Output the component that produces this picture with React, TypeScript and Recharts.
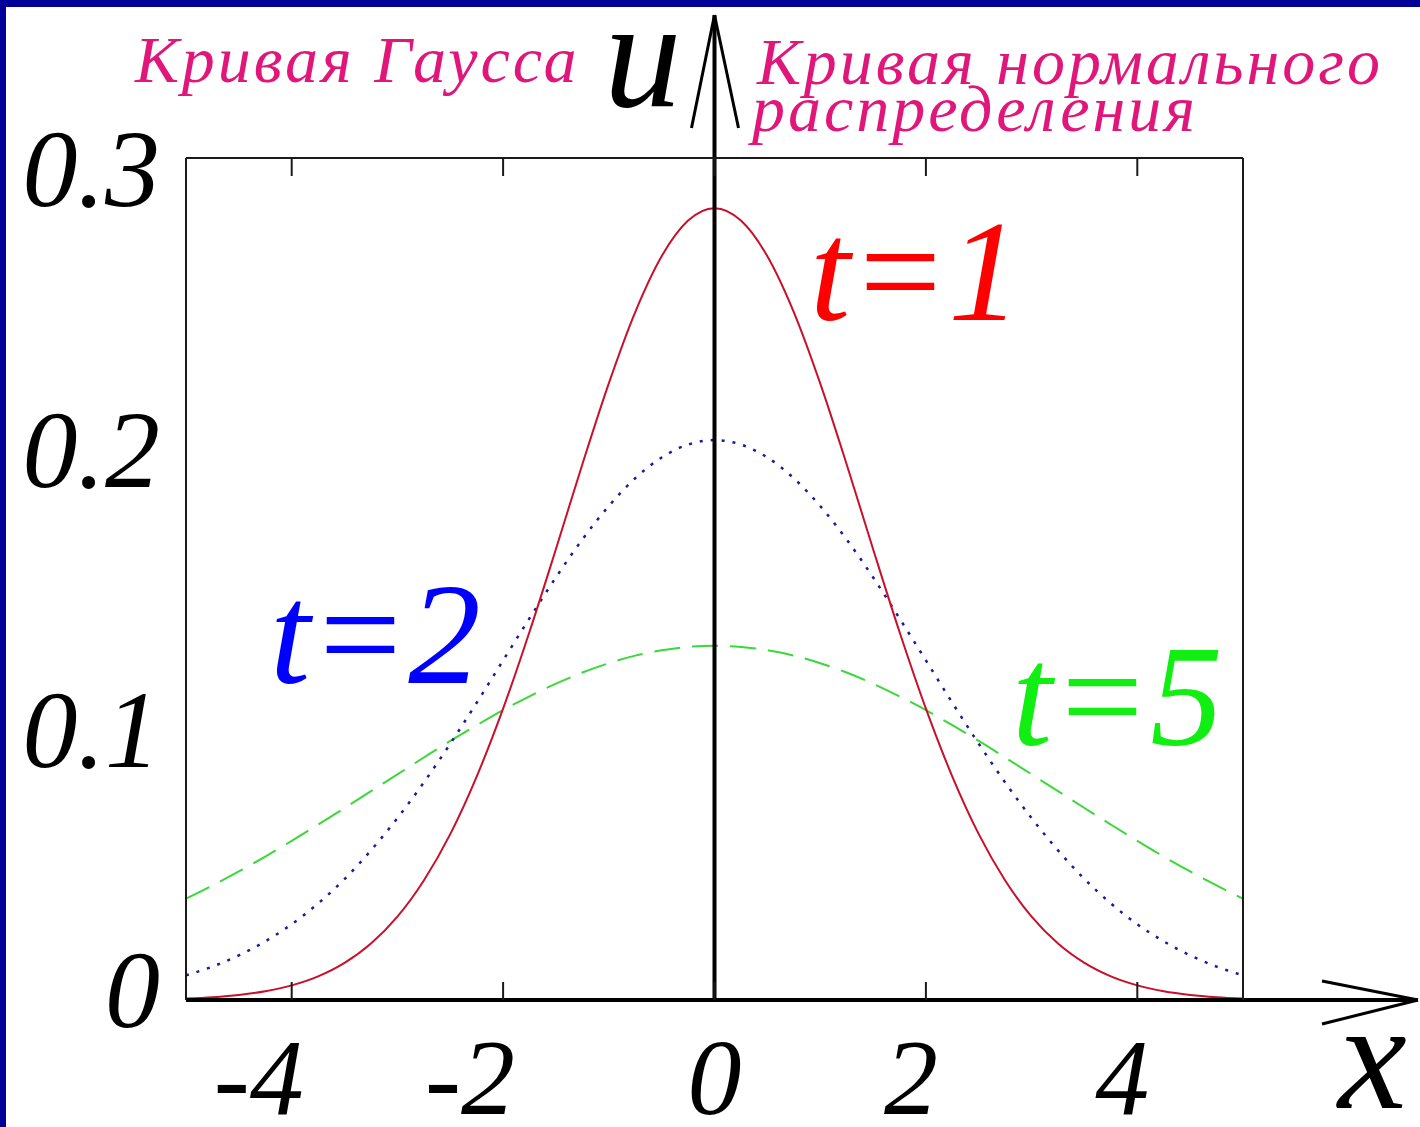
import { LineChart, Line, XAxis, YAxis, ReferenceLine } from 'recharts'

// sample points along x
const xValues = [
  -5, -4.75, -4.5, -4.25, -4, -3.75, -3.5, -3.25, -3, -2.75, -2.5, -2.25, -2, -1.75, -1.5, -1.25, -1, -0.75, -0.5, -0.25,
  0, 0.25, 0.5, 0.75, 1, 1.25, 1.5, 1.75, 2, 2.25, 2.5, 2.75, 3, 3.25, 3.5, 3.75, 4, 4.25, 4.5, 4.75, 5,
]

// u(x) at t = 1
const heatT1 = [
  0.0005, 0.001, 0.0018, 0.0031, 0.0052, 0.0084, 0.0132, 0.0201, 0.0297, 0.0426, 0.0591, 0.0796, 0.1038, 0.1312, 0.1607,
  0.1909, 0.2197, 0.2451, 0.265, 0.2777, 0.2821, 0.2777, 0.265, 0.2451, 0.2197, 0.1909, 0.1607, 0.1312, 0.1038, 0.0796,
  0.0591, 0.0426, 0.0297, 0.0201, 0.0132, 0.0084, 0.0052, 0.0031, 0.0018, 0.001, 0.0005,
]

// u(x) at t = 2
const heatT2 = [
  0.0088, 0.0119, 0.0159, 0.0209, 0.027, 0.0344, 0.0431, 0.0533, 0.0648, 0.0775, 0.0913, 0.1059, 0.121, 0.136, 0.1506,
  0.1641, 0.176, 0.1859, 0.1933, 0.1979, 0.1995, 0.1979, 0.1933, 0.1859, 0.176, 0.1641, 0.1506, 0.136, 0.121, 0.1059,
  0.0913, 0.0775, 0.0648, 0.0533, 0.0431, 0.0344, 0.027, 0.0209, 0.0159, 0.0119, 0.0088,
]

// u(x) at t = 5
const heatT5 = [
  0.0361, 0.0408, 0.0458, 0.0511, 0.0567, 0.0625, 0.0684, 0.0744, 0.0804, 0.0864, 0.0923, 0.0979, 0.1033, 0.1082, 0.1127,
  0.1167, 0.12, 0.1227, 0.1246, 0.1258, 0.1262, 0.1258, 0.1246, 0.1227, 0.12, 0.1167, 0.1127, 0.1082, 0.1033, 0.0979,
  0.0923, 0.0864, 0.0804, 0.0744, 0.0684, 0.0625, 0.0567, 0.0511, 0.0458, 0.0408, 0.0361,
]

const xTicks = [-4, -2, 0, 2, 4]
const yLabelTicks = [0, 0.1, 0.2, 0.3]
const yMinorTicks = [0, 0.05, 0.1, 0.15, 0.2, 0.25, 0.3]

const data = xValues.map((x, i) => ({ x, t1: heatT1[i], t2: heatT2[i], t5: heatT5[i] }))

const SERIF = '"Liberation Serif", "Times New Roman", serif'
const PINK = '#e0167a'
const FRAME = '#1a1a1a'

function XTickLabel({ x, y, payload }: any) {
  const v = payload.value
  const dx = v < 0 ? -33 : v > 0 ? -15 : 0
  return (
    <text x={x + dx} y={y + 112} textAnchor="middle" fontFamily={SERIF} fontStyle="italic" fontSize={108} fill="#000">
      {String(v)}
    </text>
  )
}

function YTickLabel({ x, y, payload }: any) {
  const v = payload.value
  return (
    <text x={x} y={y + (v === 0 ? 27 : 48)} textAnchor="end" fontFamily={SERIF} fontStyle="italic" fontSize={110} fill="#000">
      {v === 0 ? '0' : v.toFixed(1)}
    </text>
  )
}

// frame axes only show their tick marks
const NoLabel = () => <g />

// u axis: runs from the x axis up past the frame, ends in an open arrowhead
function UAxisArrow(props: any) {
  const { x1, y1, y2 } = props
  const bottom = Math.max(y1, y2)
  const tip = Math.min(y1, y2) - 143
  return (
    <g stroke="#000" fill="none">
      <line x1={x1} y1={bottom} x2={x1} y2={tip} strokeWidth={4} />
      <line x1={x1} y1={tip} x2={x1 - 23} y2={tip + 113} strokeWidth={3} />
      <line x1={x1} y1={tip} x2={x1 + 24} y2={tip + 113} strokeWidth={3} />
    </g>
  )
}

// x axis: thick baseline that extends to the right with an arrowhead
function XAxisArrow(props: any) {
  const { x1, x2, y1 } = props
  const left = Math.min(x1, x2)
  const tip = Math.max(x1, x2) + 175
  return (
    <g stroke="#000" fill="none">
      <line x1={left} y1={y1} x2={tip} y2={y1} strokeWidth={4} />
      <line x1={tip} y1={y1} x2={tip - 96} y2={y1 - 19} strokeWidth={3} />
      <line x1={tip} y1={y1} x2={tip - 96} y2={y1 + 24} strokeWidth={3} />
    </g>
  )
}

export default function App() {
  return (
    <div style={{ position: 'absolute', left: 0, top: 0, width: 1420, height: 1127, background: '#fff', overflow: 'hidden' }}>
      <div style={{ position: 'absolute', left: 0, top: 0, width: 1420, height: 7, background: '#000099' }} />
      <div style={{ position: 'absolute', left: 0, top: 0, width: 6, height: 1127, background: '#000099' }} />

      <div style={{ position: 'absolute', left: 0, top: 0 }}>
        <LineChart width={1420} height={1127} data={data} margin={{ top: 158, right: 177, bottom: 7, left: 36 }}>
          <XAxis
            xAxisId="main"
            dataKey="x"
            type="number"
            domain={[-5, 5]}
            ticks={xTicks}
            height={120}
            axisLine={false}
            tickLine={false}
            tickSize={0}
            tick={<XTickLabel />}
            interval={0}
          />
          <XAxis xAxisId="bottomTicks" dataKey="x" type="number" domain={[-5, 5]} ticks={xTicks} orientation="bottom" mirror
            axisLine={false} tickLine={{ stroke: FRAME, strokeWidth: 2 }} tickSize={18} tick={NoLabel} interval={0} height={20} />
          <XAxis xAxisId="topTicks" dataKey="x" type="number" domain={[-5, 5]} ticks={xTicks} orientation="top" mirror
            axisLine={{ stroke: FRAME, strokeWidth: 2 }} tickLine={{ stroke: FRAME, strokeWidth: 2 }} tickSize={18} tick={NoLabel} interval={0} height={20} />
          <YAxis
            yAxisId="main"
            type="number"
            domain={[0, 0.3]}
            ticks={yLabelTicks}
            width={150}
            axisLine={false}
            tickLine={false}
            tickSize={0}
            tickMargin={26}
            tick={<YTickLabel />}
            interval={0}
          />
          <YAxis yAxisId="leftTicks" type="number" domain={[0, 0.3]} ticks={yMinorTicks} orientation="left" mirror
            axisLine={{ stroke: FRAME, strokeWidth: 2 }} tickLine={{ stroke: FRAME, strokeWidth: 2 }} tickSize={20} tick={NoLabel} interval={0} width={20} />
          <YAxis yAxisId="rightTicks" type="number" domain={[0, 0.3]} ticks={yMinorTicks} orientation="right" mirror
            axisLine={{ stroke: FRAME, strokeWidth: 2 }} tickLine={{ stroke: FRAME, strokeWidth: 2 }} tickSize={20} tick={NoLabel} interval={0} width={20} />

          <Line xAxisId="main" yAxisId="main" type="monotone" dataKey="t5" stroke="#3ad83a" strokeWidth={2}
            strokeDasharray="26 12" dot={false} isAnimationActive={false} />
          <Line xAxisId="main" yAxisId="main" type="monotone" dataKey="t2" stroke="#1a1a9c" strokeWidth={2.5}
            strokeDasharray="3 8" dot={false} isAnimationActive={false} />
          <Line xAxisId="main" yAxisId="main" type="monotone" dataKey="t1" stroke="#c8102a" strokeWidth={2}
            dot={false} isAnimationActive={false} />

          <ReferenceLine xAxisId="main" yAxisId="main" y={0} ifOverflow="visible" shape={XAxisArrow} />
          <ReferenceLine xAxisId="main" yAxisId="main" x={0} ifOverflow="visible" shape={UAxisArrow} />
        </LineChart>
      </div>

      <svg width={1420} height={1127} style={{ position: 'absolute', left: 0, top: 0, pointerEvents: 'none' }}>
        <g fontFamily={SERIF} fontStyle="italic">
          <text x={135} y={82} fontSize={66} letterSpacing={3} fill={PINK}>Кривая Гаусса</text>
          <text x={757} y={84} fontSize={66} letterSpacing={3} fill={PINK}>Кривая нормального</text>
          <text x={752} y={131} fontSize={66} letterSpacing={3} fill={PINK}>распределения</text>
          <text x={604} y={106} fontSize={155} fill="#000">u</text>
          <text x={1338} y={1108} fontSize={155} fill="#000">x</text>
          <text x={810} y={320} fontSize={145} fill="#ff0000">t=1</text>
          <text x={270} y={683} fontSize={145} fill="#0000ff">t=2</text>
          <text x={1012} y={745} fontSize={145} fill="#11ee11">t=5</text>
        </g>
      </svg>
    </div>
  )
}
